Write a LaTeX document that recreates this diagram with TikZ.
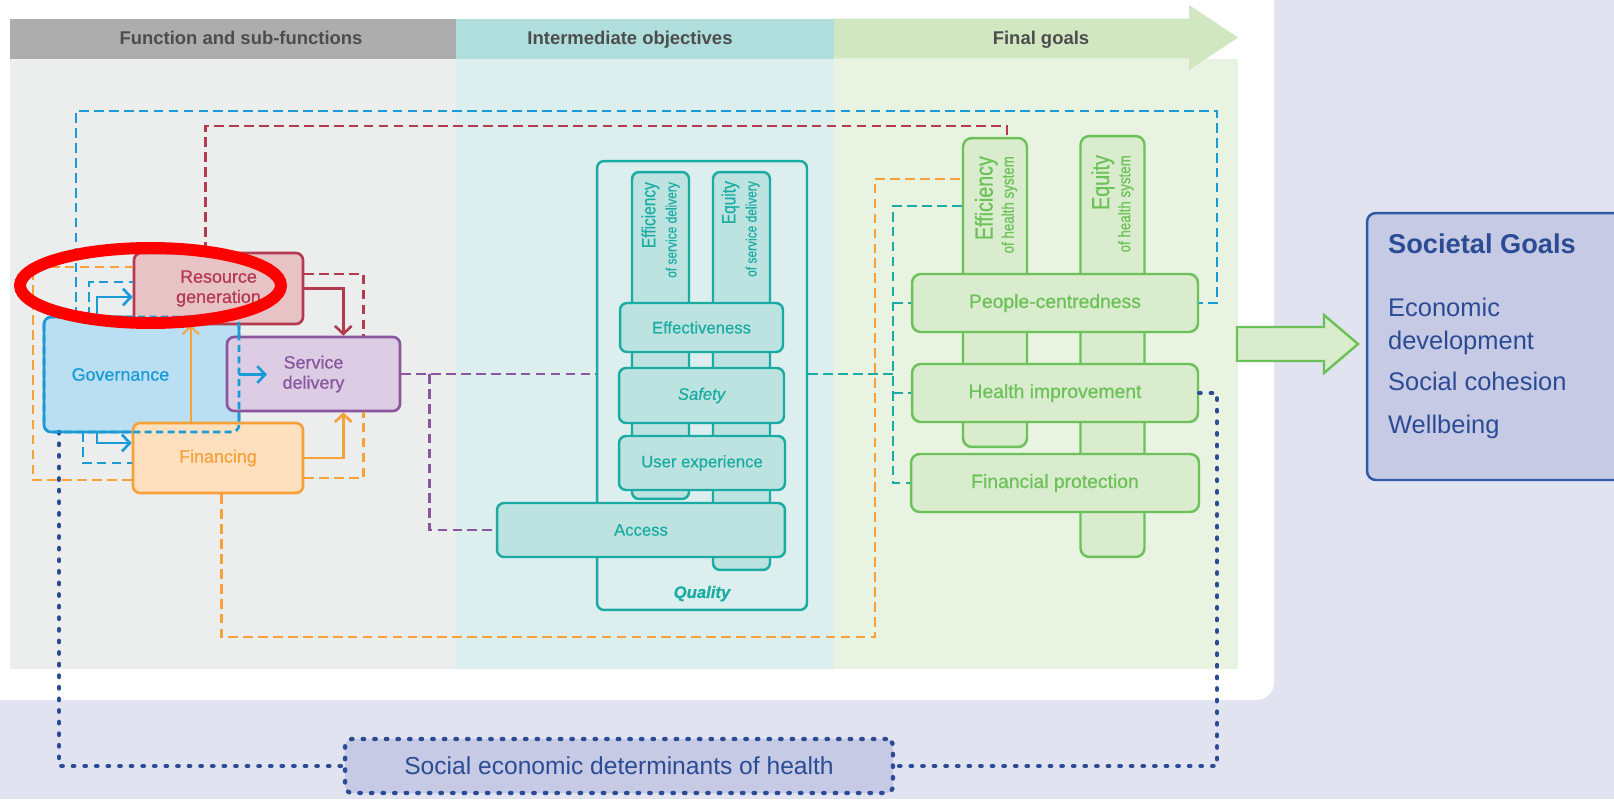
\documentclass[tikz,border=0pt]{standalone}
\usepackage{fontspec}
\setmainfont{Liberation Sans}
\newfontfamily\condfont[FakeStretch=0.8,FakeBold=0.5]{Liberation Sans}
\newfontfamily\medfont[FakeBold=0.7]{Liberation Sans}
\usetikzlibrary{arrows.meta,positioning,calc}

\definecolor{pagebg}{HTML}{E1E3F0}
\definecolor{funchead}{HTML}{ADADAD}
\definecolor{funcbody}{HTML}{ECEDED}
\definecolor{objhead}{HTML}{AFDEDC}
\definecolor{objbody}{HTML}{DCEFEE}
\definecolor{goalhead}{HTML}{D0E7C2}
\definecolor{goalbody}{HTML}{E8F3E2}
\definecolor{headtext}{HTML}{4D4D4D}
\definecolor{resline}{HTML}{B43A50}
\definecolor{resfill}{HTML}{E8C3C6}
\definecolor{govline}{HTML}{1A9BD7}
\definecolor{govfill}{HTML}{BADFF2}
\definecolor{sdline}{HTML}{8A569E}
\definecolor{sdfill}{HTML}{DCCDE5}
\definecolor{finline}{HTML}{F7A13A}
\definecolor{finfill}{HTML}{FEE0BF}
\definecolor{qline}{HTML}{1AACA3}
\definecolor{qfill}{HTML}{BCE3E0}
\definecolor{gline}{HTML}{6CC158}
\definecolor{gfill}{HTML}{D9ECCE}
\definecolor{navy}{HTML}{2B4C94}
\definecolor{navyfill}{HTML}{C6CAE4}
\definecolor{sgline}{HTML}{2F5BA6}
\definecolor{markred}{HTML}{FF0000}

\newcommand\headfont{\fontsize{10.5}{12}\selectfont\bfseries}
\newcommand\funcfont{\medfont\fontsize{10.2}{11.5}\selectfont}
\newcommand\objfont{\medfont\fontsize{9.5}{11}\selectfont}
\newcommand\goalfont{\medfont\fontsize{11}{13}\selectfont}

\begin{document}
\begin{tikzpicture}[x=0.02cm,y=-0.02cm,
  every node/.style={inner sep=0pt},
  fbox/.style={draw,rounded corners=4pt,line width=1.5pt,align=center,font=\funcfont},
  resbox/.style={fbox,draw=resline,fill=resfill,text=resline},
  govbox/.style={fbox,draw=govline,fill=govfill,text=govline,outer sep=0pt},
  sdbox/.style={fbox,draw=sdline,fill=sdfill,text=sdline},
  finbox/.style={fbox,draw=finline,fill=finfill,text=finline},
  qbox/.style={draw=qline,fill=qfill,text=qline,rounded corners=4pt,line width=1.4pt,font=\objfont},
  gbox/.style={draw=gline,fill=gfill,text=gline,rounded corners=5pt,line width=1.4pt,font=\goalfont},
  colq/.style={qbox,minimum width=1.14cm},
  colg/.style={gbox,minimum width=1.28cm},
  coltext/.style={rotate=90,anchor=east,align=right,font=\condfont},
  headlabel/.style={anchor=base,font=\headfont,text=headtext},
  link/.style={line width=1.5pt,dash pattern=on 5.5pt off 3pt},
  arr/.style={line width=1.5pt,-{Straight Barb[length=4.5pt,width=9.5pt]}},
  thinarr/.style={line width=1pt,-{Straight Barb[length=4.5pt,width=9.5pt]}},
  dots/.style={navy,line width=2.5pt,line cap=round,dash pattern=on 0.8pt off 5.8pt}]
\useasboundingbox (0,0) rectangle (1614,799);
% background and the three columns
\fill[pagebg] (0,0) rectangle (1614,799);
\fill[white,rounded corners=10pt] (-20,-20) rectangle (1274,700);
\fill[funcbody] (10,58.7) rectangle (456,669);
\fill[objbody] (456,58.7) rectangle (834,669);
\fill[goalbody] (834,58.7) rectangle (1238,669);
\fill[funchead] (10,18.5) rectangle (456,58.7);
\fill[objhead] (456,18.5) rectangle (834,58.7);
\fill[goalhead] (834,18.5) -- (1189,18.5) -- (1189,5) -- (1238,37.5) -- (1189,70) -- (1189,58.7) -- (834,58.7) -- cycle;
\node[headlabel] (hfunc) at (241,44) {Function and sub-functions};
\node[headlabel] (hobj) at (630,44) {Intermediate objectives};
\node[headlabel] (hgoal) at (1041,44) {Final goals};
% functions
\node[govbox,minimum width=3.9cm,minimum height=2.3cm,
  label={[text=govline,font=\funcfont,xshift=-12pt]center:Governance}] (gov) at (141.5,374.5) {};
\node[resbox,minimum width=3.38cm,minimum height=1.42cm] (res) at (218.5,288.5) {Resource\\generation};
\node[finbox,minimum width=3.4cm,minimum height=1.4cm] (fin) at (218,458) {Financing};
\node[sdbox,minimum width=3.46cm,minimum height=1.48cm] (sd) at (313.5,374) {Service\\delivery};
% intermediate objectives
\node[qbox,fill=none,minimum width=4.2cm,minimum height=8.98cm,
  label={[text=qline,font=\objfont\bfseries\itshape,anchor=center,yshift=10pt]south:Quality}] (qual) at (702,385.5) {};
\node[colq,minimum height=6.54cm] (effsd) at (660.5,335.5) {};
\node[colq,minimum height=7.96cm] (eqsd) at (741.5,371) {};
\node[coltext,text=qline] (effsdtxt) at ($(effsd.north)+(0,11)$) {\fontsize{11}{11}\selectfont Efficiency\\\fontsize{8.5}{9.5}\selectfont of service delivery};
\node[coltext,text=qline] (eqsdtxt) at ($(eqsd.north)+(-1,10)$) {\fontsize{11}{11}\selectfont Equity\\\fontsize{8.5}{9.5}\selectfont of service delivery};
\node[qbox,minimum width=3.26cm,minimum height=0.98cm] (effect) at (701.5,327.5) {Effectiveness};
\node[qbox,minimum width=3.3cm,minimum height=1.1cm] (safe) at (701.5,395.5) {\itshape Safety};
\node[qbox,minimum width=3.32cm,minimum height=1.08cm] (user) at (702,463) {User experience};
\node[qbox,minimum width=5.76cm,minimum height=1.08cm] (acc) at (641,530) {Access};
% final goals
\node[colg,minimum height=6.18cm] (effhs) at (995,292.5) {};
\node[colg,minimum height=8.42cm] (eqhs) at (1112.5,346.5) {};
\node[coltext,text=gline] (effhstxt) at ($(effhs.north)+(1,19)$) {\fontsize{14}{14}\selectfont Efficiency\\\fontsize{9.5}{11}\selectfont of health system};
\node[coltext,text=gline] (eqhstxt) at ($(eqhs.north)+(0,20)$) {\fontsize{14}{14}\selectfont Equity\\\fontsize{9.5}{11}\selectfont of health system};
\node[gbox,minimum width=5.72cm,minimum height=1.16cm] (pc) at (1055,303) {People-centredness};
\node[gbox,minimum width=5.72cm,minimum height=1.16cm] (hi) at (1055,393) {Health improvement};
\node[gbox,minimum width=5.76cm,minimum height=1.16cm] (fp) at (1055,483) {Financial protection};
% societal goals
\node[draw=sgline,fill=navyfill,line width=1.4pt,rounded corners=5pt,minimum width=5.46cm,minimum height=5.34cm] (sg) at (1503.5,346.5) {};
\node[anchor=north west,align=left,text=navy,font=\fontsize{14.5}{18.7}\selectfont] (sgtext) at ($(sg.north west)+(22,22)$)
  {{\bfseries\fontsize{15.5}{18.7}\selectfont Societal Goals}\\[17pt]Economic\\development\\[4.5pt]Social cohesion\\[5.7pt]Wellbeing};
\draw[gline,fill=gfill,line width=1.4pt] (1237,327) -- (1324,327) -- (1324,315) -- (1358,344) -- (1324,373) -- (1324,361) -- (1237,361) -- cycle;
\node[dots,draw,fill=navyfill,rounded corners=4pt,minimum width=10.96cm,minimum height=1.08cm,text=navy,font=\fontsize{14}{16}\selectfont] (sed) at (619,766) {Social economic determinants of health};
% governance links
\draw[arr,govline] ($(gov.north west)+(53,0)$) |- ($(res.west)+(0,8.5)$);
\draw[arr,govline] (gov.east) -- ++(28,0);
\draw[arr,govline] ($(gov.south west)+(53,0)$) |- ($(fin.west)+(0,-15)$);
\draw[link,govline] ($(gov.north west)+(45,0)$) |- ($(res.west)+(0,-6.5)$);
\draw[link,govline] ($(gov.south west)+(39,0)$) |- ($(fin.west)+(0,5)$);
\coordinate (govtop) at (1217,111);
\draw[link,govline] ($(gov.north west)+(32,0)$) |- (govtop) |- (pc.east);
% resource generation links
\coordinate (restop) at (1007,126);
\draw[link,resline] ($(res.north west)+(73,0)$) |- (restop) -- (restop |- effhs.north);
\draw[link,resline] ($(res.east)+(0,-14.5)$) -| ($(sd.north east)+(-38,0)$);
\draw[arr,resline] (res.east) -| ($(sd.north east)+(-58,0)$);
% financing links
\draw[thinarr,finline] ($(fin.north west)+(59,0)$) coordinate (fup) -- (fup |- res.south);
\draw[arr,finline] (fin.east) -| ($(sd.south east)+(-58,0)$);
\draw[link,finline] ($(fin.east)+(0,20)$) -| ($(sd.south east)+(-38,0)$);
\coordinate (finleft) at (33,267);
\draw[link,finline] ($(fin.west)+(0,22)$) -| (finleft) -- (finleft -| res.west);
\coordinate (finlow) at (875,637);
\coordinate (finhigh) at (875,179);
\draw[link,finline] ($(fin.south west)+(90,0)$) |- (finlow) -- (finhigh) -- (finhigh -| effhs.west);
% service delivery links
\draw[link,sdline] (sd.east) -- (sd.east -| qual.west);
\draw[link,sdline] ($(sd.east)+(28,0)$) |- (acc.west);
% quality links
\coordinate (qtop) at (893,206);
\draw[link,qline] ($(qual.east)+(0,-11.5)$) -- ($(qual.east)+(86,-11.5)$);
\draw[link,qline] (qtop -| effhs.west) -- (qtop) |- (fp.west);
\draw[link,qline] (qtop |- pc.west) -- (pc.west);
\draw[link,qline] (qtop |- hi.west) -- (hi.west);
% determinants
\coordinate (sedright) at (1217,766);
\draw[dots] (hi.east) -| (sedright) -- (sed.east);
\draw[dots] ($(gov.south west)+(15,0)$) |- (sed.west);
% governance outline seen through the other boxes
\draw[govline,line width=1.5pt,dash pattern=on 4pt off 2.5pt,rounded corners=4pt] (gov.north west) rectangle (gov.south east);
% red highlight round resource generation
\draw[markred,line width=6.8pt] (150.5,285.5) ellipse [x radius=2.61cm,y radius=0.75cm];
\end{tikzpicture}
\end{document}
